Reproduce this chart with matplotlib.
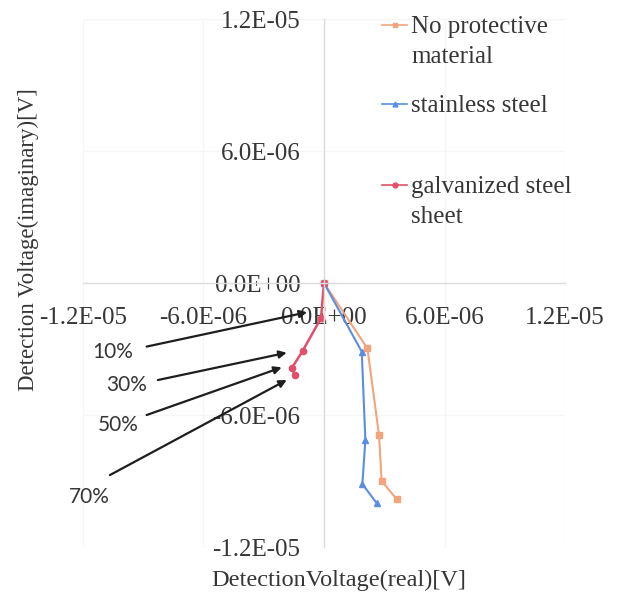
import matplotlib
matplotlib.use("Agg")
import matplotlib.pyplot as plt
from matplotlib.lines import Line2D
from matplotlib.ticker import FuncFormatter, MultipleLocator
from matplotlib.transforms import ScaledTranslation

plt.rcParams['font.family'] = ['Liberation Serif', 'DejaVu Serif']

# protective plate coverage for each point
coverage = ["0%", "10%", "30%", "50%", "70%"]

# detection voltage, real and imaginary parts [V]
no_prot_re = [0, 2.16e-6, 2.74e-6, 2.87e-6, 3.62e-6]
no_prot_im = [0, -2.97e-6, -6.91e-6, -9.00e-6, -9.83e-6]
stain_re = [0, 1.88e-6, 2.06e-6, 1.91e-6, 2.62e-6]
stain_im = [0, -3.12e-6, -7.14e-6, -9.14e-6, -10.0e-6]
galv_re = [0, -0.15e-6, -1.06e-6, -1.61e-6, -1.44e-6]
galv_im = [0, -1.60e-6, -3.08e-6, -3.88e-6, -4.18e-6]

series_labels = ["No protective\nmaterial", "stainless steel", "galvanized steel\nsheet"]

text_col = '#363636'
orange = '#f4a47c'
blue = '#5b8ee0'
red = '#e0506a'

fig = plt.figure(figsize=(6.22, 5.94), dpi=100)
ax = fig.add_axes([0.1334, 0.0791, 0.775, 0.8889])

l1, = ax.plot(no_prot_re, no_prot_im, color=orange, lw=1.5, marker='s', ms=4.5)
l2, = ax.plot(stain_re, stain_im, color=blue, lw=1.5, marker='^', ms=5)
l3, = ax.plot(galv_re, galv_im, color=red, lw=1.8, marker='o', ms=4.5)

ax.set_xlim(-1.2e-5, 1.2e-5)
ax.set_ylim(-1.2e-5, 1.2e-5)
ax.xaxis.set_major_locator(MultipleLocator(6e-6))
ax.yaxis.set_major_locator(MultipleLocator(6e-6))
fmt = FuncFormatter(lambda v, p: '%.1E' % v)
ax.xaxis.set_major_formatter(fmt)
ax.yaxis.set_major_formatter(fmt)

ax.spines['left'].set_position('zero')
ax.spines['bottom'].set_position('zero')
ax.spines['top'].set_visible(False)
ax.spines['right'].set_visible(False)
for s in ['left', 'bottom']:
    ax.spines[s].set_color('#dcdcdc')
    ax.spines[s].set_linewidth(1)
ax.grid(True, color='#f5f5f5', lw=1)
ax.set_axisbelow(True)
ax.tick_params(axis='x', length=0, pad=17, labelsize=18, labelcolor=text_col)
ax.tick_params(axis='y', length=0, pad=17, labelsize=18, labelcolor=text_col)

# axis titles
fig.text(0.545, 0.023, "DetectionVoltage(real)[V]", ha='center', va='center',
         fontsize=17.5, color=text_col)
fig.text(0.045, 0.596, "Detection Voltage(imaginary)[V]", ha='center', va='center',
         rotation=90, fontsize=16.5, color=text_col)

# legend entries, each placed on its own; wrapped lines continue under the text
legend_y = [27, 106, 187]
for handle, lab, yy in zip([l1, l2, l3], series_labels, legend_y):
    lines = lab.split("\n")
    h = Line2D([], [], color=handle.get_color(), lw=1.2, marker=handle.get_marker(), ms=3.5)
    fig.legend([h], [lines[0]], loc='center left', bbox_to_anchor=(382 / 622, 1 - yy / 594),
               frameon=False, fontsize=18, handlelength=1.0, handletextpad=0.15,
               borderpad=0, borderaxespad=0, labelcolor=text_col)
    for j, extra in enumerate(lines[1:], 1):
        fig.text(411 / 622, 1 - (yy + 30 * j) / 594, extra, ha='left', va='center',
                 fontsize=18, color=text_col)

# coverage annotations pointing at the galvanized steel points
label_pos = [(-10.5e-6, -3.12e-6), (-9.82e-6, -4.64e-6), (-10.26e-6, -6.45e-6), (-11.7e-6, -9.71e-6)]
tail_pos = [(-8.83e-6, -2.89e-6), (-8.27e-6, -4.41e-6), (-8.83e-6, -6.0e-6), (-10.66e-6, -8.73e-6)]
tip_offset = [(-10, 4.3), (-11.5, -1.4), (-7.2, 0.7), (-6, -3.6)]
for i in range(4):
    k = i + 1
    tr = ax.transData + ScaledTranslation(tip_offset[i][0] / 72, tip_offset[i][1] / 72, fig.dpi_scale_trans)
    ax.annotate('', xy=(galv_re[k], galv_im[k]), xycoords=tr,
                xytext=tail_pos[i], textcoords='data',
                arrowprops=dict(arrowstyle='-|>', color='#1e1e1e', lw=1.6,
                                mutation_scale=11, shrinkA=0, shrinkB=0))
    ax.text(label_pos[i][0], label_pos[i][1], coverage[k], ha='center', va='center',
            fontsize=15, family='Lato', color=text_col)

fig.savefig("out.png", dpi=100)
